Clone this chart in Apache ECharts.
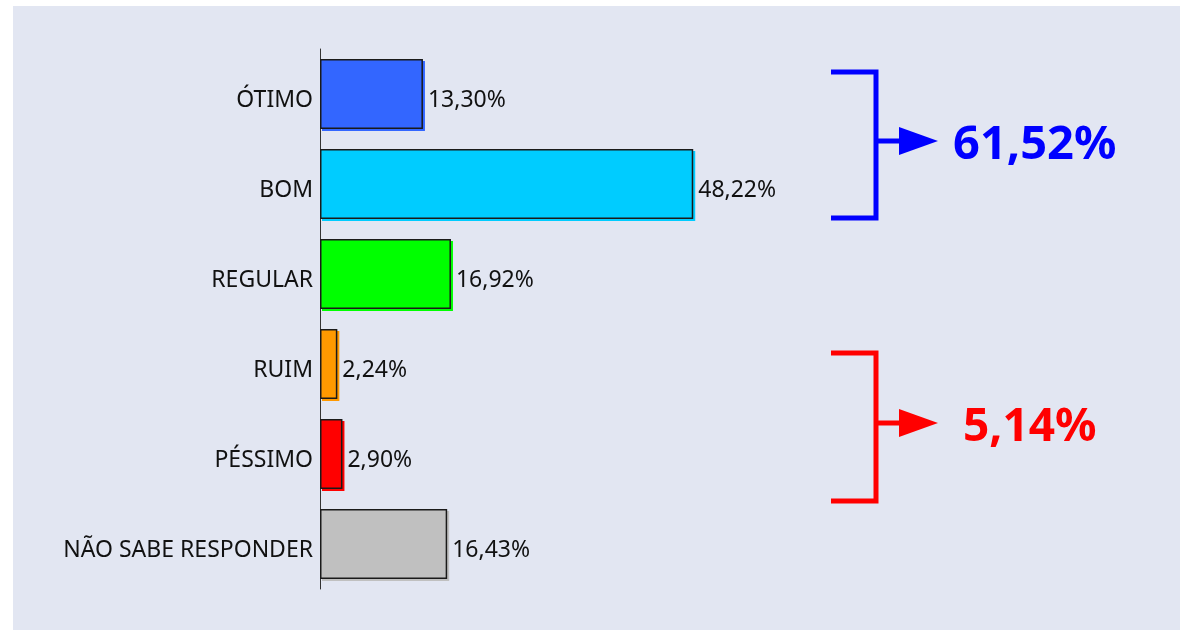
<!DOCTYPE html>
<html>
<head>
<meta charset="utf-8">
<script src="https://cdn.jsdelivr.net/npm/echarts@6/dist/echarts.min.js"></script>
<style>
  html, body { margin: 0; padding: 0; background: #ffffff; }
  #panel { position: absolute; left: 13px; top: 6px; width: 1167px; height: 624px; background: #e2e6f2; }
  #chart { position: absolute; left: 0; top: 0; width: 1183px; height: 630px; }
</style>
</head>
<body>
<div id="panel"></div>
<div id="chart"></div>
<script>
const categories = ['ÓTIMO', 'BOM', 'REGULAR', 'RUIM', 'PÉSSIMO', 'NÃO SABE RESPONDER'];
const values = [13.30, 48.22, 16.92, 2.24, 2.90, 16.43];
const barColors = ['#3366ff', '#00ccff', '#00ff00', '#ff9900', '#ff0000', '#c0c0c0'];
const positiveGroup = [0, 1];
const negativeGroup = [3, 4];

function fmt(v) { return v.toFixed(2).replace('.', ',') + '%'; }
const posTotal = positiveGroup.reduce((s, i) => s + values[i], 0);
const negTotal = negativeGroup.reduce((s, i) => s + values[i], 0);

const chart = echarts.init(document.getElementById('chart'), null, { renderer: 'canvas' });
const font = '"Noto Sans", sans-serif';

function bracket(color, top, bottom, arrowY, text, textX, textY, size) {
  return [
    { type: 'polyline', shape: { points: [[831, top], [876, top], [876, bottom], [831, bottom]] },
      style: { stroke: color, lineWidth: 5, fill: null, lineJoin: 'miter' } },
    { type: 'line', shape: { x1: 876, y1: arrowY, x2: 902, y2: arrowY },
      style: { stroke: color, lineWidth: 5 } },
    { type: 'polygon', shape: { points: [[899, arrowY - 14], [938, arrowY], [899, arrowY + 14]] },
      style: { fill: color } },
    { type: 'text', x: textX, y: textY,
      style: { text: text, fill: color, font: 'bold ' + size + 'px ' + font, textVerticalAlign: 'middle', textAlign: 'left' } }
  ];
}

chart.setOption({
  backgroundColor: 'transparent',
  animation: false,
  grid: { left: 320, top: 49, width: 774, height: 540, containLabel: false },
  xAxis: { type: 'value', min: 0, max: 100, show: false },
  yAxis: {
    type: 'category', data: categories, inverse: true,
    axisLine: { show: true, lineStyle: { color: '#333333', width: 1 } },
    axisTick: { show: false },
    axisLabel: { color: '#111111', fontSize: 23, fontFamily: font, margin: 7, verticalAlign: 'top', lineHeight: 12 }
  },
  series: [{
    type: 'bar',
    barWidth: 70,
    data: values.map((v, i) => ({
      value: v,
      itemStyle: {
        color: barColors[i], borderColor: '#1a1a1a', borderWidth: 1.5,
        shadowColor: barColors[i], shadowOffsetX: 2, shadowOffsetY: 2, shadowBlur: 0
      }
    })),
    label: {
      show: true, position: 'right', distance: 5,
      color: '#111111', fontSize: 23, fontFamily: font,
      offset: [0, 6],
      formatter: p => fmt(p.value)
    }
  }],
  graphic: [
    ...bracket('#0000ff', 72, 218, 141, fmt(posTotal), 953, 146, 47),
    ...bracket('#ff0000', 353, 501, 423, fmt(negTotal), 963, 428, 46)
  ]
});
</script>
</body>
</html>
